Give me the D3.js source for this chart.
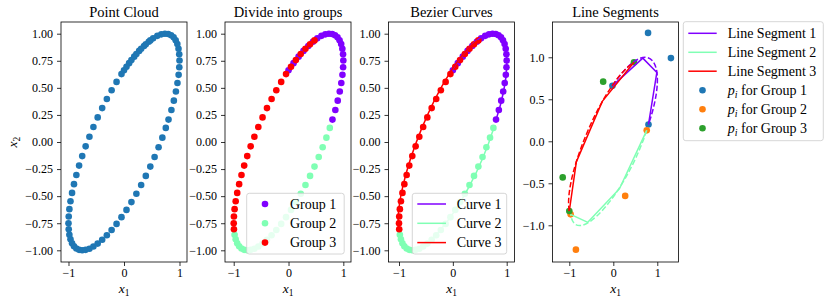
<!DOCTYPE html>
<html>
<head>
<meta charset="utf-8">
<script src="https://cdn.jsdelivr.net/npm/d3@7"></script>
<style>
  body { margin: 0; background: #fff; }
  svg { display: block; }
  text { font-family: "Liberation Serif", "DejaVu Serif", serif; fill: #000; }
</style>
</head>
<body>
<svg id="chart" width="830" height="302"></svg>
<script>
// ---------------- data ----------------
const titles = ["Point Cloud", "Divide into groups", "Bezier Curves", "Line Segments"];
const groupNames = ["Group 1", "Group 2", "Group 3"];
const curveNames = ["Curve 1", "Curve 2", "Curve 3"];
const segmentNames = ["Line Segment 1", "Line Segment 2", "Line Segment 3"];
const pointNames = ["for Group 1", "for Group 2", "for Group 3"];

const xTicks = [-1, 0, 1];
const yTicksA = [-1.0, -0.75, -0.5, -0.25, 0.0, 0.25, 0.5, 0.75, 1.0];
const yTicksB = [-1.0, -0.5, 0.0, 0.5, 1.0];

// group 1 points (over the top-right)
const group1 = [[0.802,0.207],[0.854,0.296],[0.898,0.382],[0.935,0.466],[0.963,0.545],
  [0.984,0.620],[0.996,0.690],[1.000,0.753],[0.995,0.810],[0.982,0.861],[0.961,0.904],
  [0.931,0.940],[0.894,0.967],[0.849,0.986],[0.797,0.997],[0.738,1.000],[0.672,0.994],
  [0.601,0.980],[0.525,0.957],[0.445,0.926],[0.361,0.887],[0.273,0.841],[0.184,0.788],
  [0.092,0.728],[0.000,0.662]];
// group 2 points (lower-right side and bottom)
const group2 = [[-0.984,-0.856],[-0.964,-0.899],[-0.936,-0.935],[-0.901,-0.963],[-0.858,-0.983],
  [-0.809,-0.996],[-0.753,-1.000],[-0.691,-0.996],[-0.623,-0.985],[-0.551,-0.965],
  [-0.474,-0.938],[-0.393,-0.903],[-0.309,-0.861],[-0.223,-0.812],[-0.134,-0.756],
  [-0.045,-0.694],[0.045,-0.627],[0.134,-0.555],[0.223,-0.478],[0.309,-0.397],
  [0.393,-0.313],[0.474,-0.227],[0.551,-0.139],[0.623,-0.049],[0.691,0.040],[0.753,0.130]];
// group 3 points (upper-left side)
const group3 = [[0.474,0.938],[0.393,0.903],[0.309,0.861],[0.223,0.812],[0.134,0.756],
  [0.045,0.694],[-0.045,0.627],[-0.134,0.555],[-0.223,0.478],[-0.309,0.397],[-0.393,0.313],
  [-0.474,0.227],[-0.551,0.139],[-0.623,0.049],[-0.691,-0.040],[-0.753,-0.130],
  [-0.809,-0.218],[-0.858,-0.305],[-0.901,-0.389],[-0.936,-0.470],[-0.964,-0.547],
  [-0.984,-0.620],[-0.996,-0.688],[-1.000,-0.750],[-0.996,-0.806]];

// control points p_i of each cubic Bezier
const ctrl1 = [[-0.02,0.66],[0.79,1.29],[1.31,0.99],[0.80,0.20]];
const ctrl2 = [[0.76,0.13],[0.27,-0.65],[-0.85,-1.29],[-0.97,-0.87]];
const ctrl3 = [[-1.00,-0.83],[-1.15,-0.43],[-0.23,0.71],[0.47,0.94]];

// line segment vertices
const seg1 = [[-0.02,0.66],[0.67,0.99],[0.99,0.82],[0.80,0.20]];
const seg2 = [[0.76,0.13],[0.14,-0.565],[-0.58,-0.965],[-0.97,-0.87]];
const seg3 = [[-1.00,-0.83],[-0.84,-0.245],[-0.25,0.475],[0.47,0.94]];

// ---------------- styling / layout ----------------
const groupColors = ["#8000ff", "#80ffb4", "#ff0000"];
const pColors = ["#1f77b4", "#ff7f0e", "#2ca02c"];
const cloudColor = "#1f77b4";
const R = 3.3;
const plotTop = 22, plotBottom = 262;

const svg = d3.select("#chart");

const panelDefs = [
  { left: 61,    right: 187,   xd: [-1.135, 1.135], yd: [-1.108, 1.108], yt: yTicksA, fmt: d3.format(".2f") },
  { left: 225,   right: 351,   xd: [-1.159, 1.140], yd: [-1.108, 1.108], yt: yTicksA, fmt: d3.format(".2f") },
  { left: 388.5, right: 514.5, xd: [-1.195, 1.145], yd: [-1.108, 1.108], yt: yTicksA, fmt: d3.format(".2f") },
  { left: 552.5, right: 678.5, xd: [-1.382, 1.482], yd: [-1.437, 1.420], yt: yTicksB, fmt: d3.format(".1f") }
];

function minus(s) { return s.replace("-", "\u2212"); }

const panels = panelDefs.map((p, i) => {
  const x = d3.scaleLinear().domain(p.xd).range([p.left, p.right]);
  const y = d3.scaleLinear().domain(p.yd).range([plotBottom, plotTop]);
  const g = svg.append("g");
  return { ...p, x, y, g, i };
});

function drawAxes(p) {
  const ax = p.g.append("g").attr("transform", `translate(0,${plotBottom})`)
    .call(d3.axisBottom(p.x).tickValues(xTicks).tickSize(4).tickPadding(2.5)
      .tickFormat(d => minus(d3.format("d")(d))));
  const ay = p.g.append("g").attr("transform", `translate(${p.left},0)`)
    .call(d3.axisLeft(p.y).tickValues(p.yt).tickSize(4).tickPadding(4)
      .tickFormat(d => minus(p.fmt(d))));
  [ax, ay].forEach(a => {
    a.select(".domain").remove();
    a.selectAll("line").attr("stroke", "#000").attr("stroke-width", 0.8);
    a.selectAll("text").attr("font-family", "Liberation Serif, DejaVu Serif, serif")
      .attr("font-size", 12).attr("fill", "#000");
  });
  p.g.append("rect").attr("x", p.left).attr("y", plotTop)
    .attr("width", p.right - p.left).attr("height", plotBottom - plotTop)
    .attr("fill", "none").attr("stroke", "#000").attr("stroke-width", 0.8);
  p.g.append("text").attr("x", (p.left + p.right) / 2).attr("y", 16.5)
    .attr("text-anchor", "middle").attr("font-size", 14.5).text(titles[p.i]);
  const xl = p.g.append("text").attr("x", (p.left + p.right) / 2).attr("y", 292.5)
    .attr("text-anchor", "middle").attr("font-size", 13.5);
  xl.append("tspan").attr("font-style", "italic").text("x");
  xl.append("tspan").attr("font-size", 9.5).attr("dy", 3).text("1");
}

function dots(p, data, color) {
  p.g.append("g").selectAll("circle").data(data).join("circle")
    .attr("cx", d => p.x(d[0])).attr("cy", d => p.y(d[1]))
    .attr("r", R).attr("fill", color);
}

function bezier(p, c, color, dash) {
  const path = d3.path();
  path.moveTo(p.x(c[0][0]), p.y(c[0][1]));
  path.bezierCurveTo(p.x(c[1][0]), p.y(c[1][1]), p.x(c[2][0]), p.y(c[2][1]), p.x(c[3][0]), p.y(c[3][1]));
  p.g.append("path").attr("d", path.toString()).attr("fill", "none")
    .attr("stroke", color).attr("stroke-width", 1.5)
    .attr("stroke-dasharray", dash ? "5.5,2.4" : null);
}

function polyline(p, pts, color) {
  const line = d3.line().x(d => p.x(d[0])).y(d => p.y(d[1]));
  p.g.append("path").attr("d", line(pts)).attr("fill", "none")
    .attr("stroke", color).attr("stroke-width", 1.5).attr("stroke-linejoin", "round");
}

function legendBox(g, x0, y0, w, h) {
  g.append("rect").attr("x", x0).attr("y", y0).attr("width", w).attr("height", h)
    .attr("rx", 2.5).attr("fill", "#fff").attr("fill-opacity", 0.8)
    .attr("stroke", "#cccccc").attr("stroke-width", 0.8);
}

const groups = [group1, group2, group3];
const ctrls = [ctrl1, ctrl2, ctrl3];
const segs = [seg1, seg2, seg3];

// Panel 1: point cloud
dots(panels[0], group1.concat(group2, group3), cloudColor);

// Panel 2: groups
groups.forEach((d, k) => dots(panels[1], d, groupColors[k]));

// Panel 3: Bezier curves
groups.forEach((d, k) => dots(panels[2], d, groupColors[k]));
ctrls.forEach((c, k) => bezier(panels[2], c, groupColors[k], false));

// Panel 4: line segments
ctrls.forEach((c, k) => dots(panels[3], c, pColors[k]));
segs.forEach((s, k) => polyline(panels[3], s, groupColors[k]));
ctrls.forEach((c, k) => bezier(panels[3], c, groupColors[k], true));

panels.forEach(drawAxes);

// y label on first panel
const yl = svg.append("text").attr("transform", "translate(17,142) rotate(-90)")
  .attr("text-anchor", "middle").attr("font-size", 13.5);
yl.append("tspan").attr("font-style", "italic").text("x");
yl.append("tspan").attr("font-size", 9.5).attr("dy", 3).text("2");

// Legends
const rowY = [204, 223.3, 242.6];
{
  const g = svg.append("g");
  legendBox(g, 246.7, 193.3, 97.5, 60.7);
  groupNames.forEach((n, k) => {
    g.append("circle").attr("cx", 265).attr("cy", rowY[k]).attr("r", R).attr("fill", groupColors[k]);
    g.append("text").attr("x", 290).attr("y", rowY[k]).attr("dy", "0.33em").attr("font-size", 14).text(n);
  });
}
{
  const g = svg.append("g");
  legendBox(g, 412.3, 193.3, 94.4, 60.7);
  curveNames.forEach((n, k) => {
    g.append("line").attr("x1", 417.3).attr("x2", 446).attr("y1", rowY[k]).attr("y2", rowY[k])
      .attr("stroke", groupColors[k]).attr("stroke-width", 1.5);
    g.append("text").attr("x", 456.7).attr("y", rowY[k]).attr("dy", "0.33em").attr("font-size", 14).text(n);
  });
}
{
  const g = svg.append("g");
  legendBox(g, 683.3, 21.7, 140, 119);
  const rows = [33.3, 52.3, 71.2, 90.2, 109.2, 128.2];
  segmentNames.forEach((n, k) => {
    g.append("line").attr("x1", 688.3).attr("x2", 716.7).attr("y1", rows[k]).attr("y2", rows[k])
      .attr("stroke", groupColors[k]).attr("stroke-width", 1.5);
    g.append("text").attr("x", 727.7).attr("y", rows[k]).attr("dy", "0.33em").attr("font-size", 14).text(n);
  });
  pointNames.forEach((n, k) => {
    const yy = rows[k + 3];
    g.append("circle").attr("cx", 702.5).attr("cy", yy).attr("r", R).attr("fill", pColors[k]);
    const t = g.append("text").attr("x", 727.7).attr("y", yy).attr("dy", "0.33em").attr("font-size", 14);
    t.append("tspan").attr("font-style", "italic").text("p");
    t.append("tspan").attr("font-style", "italic").attr("font-size", 10).attr("dy", 3).text("i");
    t.append("tspan").attr("dy", -3).text(" " + n);
  });
}
</script>
</body>
</html>
